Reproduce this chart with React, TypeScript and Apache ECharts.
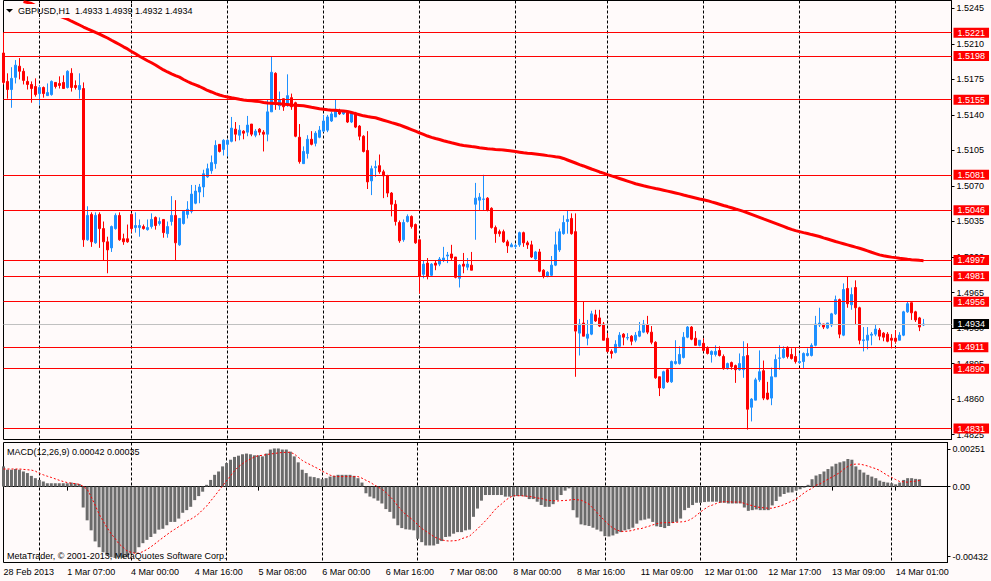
import React, { useEffect, useRef } from "react";
import * as echarts from "echarts";

// ---- time axis (hourly bars) ----
const sessionDays = ["28 Feb", "1 Mar", "4 Mar", "5 Mar", "6 Mar", "7 Mar", "8 Mar", "11 Mar", "12 Mar", "13 Mar", "14 Mar"];
const sessionFirstHour = [15, 0, 0, 0, 0, 0, 0, 0, 0, 0, 0];
const sessionLastHour = [23, 22, 23, 23, 23, 23, 22, 23, 23, 23, 14];
const firstLabel = "28 Feb 2013";
const labelEvery = 16;

// ---- GBPUSD H1 prices, in pips above 1.0000 ----
const opens = [
  5201, 5173, 5165, 5177, 5188, 5183, 5173, 5170, 5168, 5161,
  5167, 5159, 5160, 5172, 5171, 5172, 5167, 5181, 5169, 5165,
  5166, 5017, 5042, 5014, 5042, 5028, 5015, 5009, 5028, 5041,
  5018, 5018, 5042, 5029, 5029, 5030, 5027, 5030, 5039, 5033,
  5037, 5023, 5035, 5041, 5012, 5033, 5042, 5045, 5053, 5064,
  5069, 5079, 5085, 5092, 5111, 5106, 5111, 5114, 5126, 5120,
  5124, 5123, 5131, 5120, 5126, 5123, 5121, 5143, 5181, 5149,
  5156, 5150, 5157, 5152, 5118, 5092, 5102, 5116, 5112, 5118,
  5124, 5125, 5134, 5138, 5144, 5141, 5142, 5133, 5142, 5129,
  5119, 5105, 5075, 5088, 5090, 5084, 5080, 5063, 5052, 5034,
  5017, 5035, 5040, 5032, 5017, 4983, 4994, 4982, 4994, 4993,
  4997, 5001, 5003, 5000, 4979, 4993, 4990, 4992, 5052, 5056,
  5056.8, 5058, 5048, 5029, 5025, 5025, 5015, 5010, 5010.5, 5012,
  5024, 5014, 5012, 4998, 5005, 4987, 4981, 4982, 4992, 5007,
  5023, 5035, 5038, 5025, 4925, 4935, 4920, 4924, 4943, 4940,
  4934, 4920, 4907, 4906, 4912, 4924, 4920.2, 4922, 4918, 4922,
  4926, 4933, 4926, 4916, 4882, 4871, 4889, 4877, 4895, 4895,
  4901, 4921, 4931, 4920, 4913, 4915, 4910, 4904, 4904, 4908,
  4902, 4890, 4896, 4893, 4889, 4889, 4903, 4852, 4859, 4879,
  4888, 4866, 4861, 4882, 4900.2, 4901, 4911, 4904, 4902, 4896,
  4897, 4903, 4903, 4913, 4933, 4934, 4930, 4933, 4944, 4958,
  4923, 4969, 4953, 4970, 4950, 4917.6, 4918, 4923, 4924, 4928,
  4925, 4924, 4920, 4920, 4918, 4923, 4946, 4955, 4946, 4940,
  4933,
];
const closes = [
  5172, 5165, 5176, 5189, 5183, 5174, 5170, 5166, 5160, 5167,
  5161, 5162, 5173, 5168, 5169, 5166, 5183, 5167, 5167, 5169,
  5017, 5041, 5015, 5041, 5028, 5015, 5007, 5030, 5041, 5017,
  5015, 5015, 5028, 5031, 5031, 5028, 5029, 5037, 5031, 5035,
  5024, 5030, 5041, 5014, 5038, 5045, 5047, 5062, 5065, 5069,
  5082, 5087, 5093, 5110, 5104, 5115, 5115, 5127, 5121, 5125,
  5122, 5130, 5121, 5124, 5123, 5121, 5143, 5182, 5153, 5155,
  5148, 5159, 5148, 5119, 5094, 5104, 5116, 5111, 5122, 5125,
  5134, 5138, 5141, 5145, 5141, 5144, 5133, 5142, 5128, 5119,
  5104, 5074, 5087, 5089, 5084, 5080, 5063, 5052, 5035, 5016,
  5034, 5040, 5030, 5014, 4981, 4993, 4981, 4993, 4992, 4998,
  4999, 5002, 4999, 4980, 4992, 4991, 4993, 4987, 5058, 5059,
  5057.2, 5046, 5029, 5023, 5023, 5015, 5011, 5012, 5011.2, 5024,
  5014, 5012, 5000, 5005, 4986, 4981, 4985, 4992, 5012, 5025,
  5034, 5037, 5023, 4927, 4934, 4922, 4924, 4944, 4937, 4932,
  4918, 4907, 4905, 4914, 4923, 4921, 4920.6, 4917, 4923, 4927,
  4934, 4926, 4916, 4881, 4871, 4887, 4877, 4897, 4897, 4904,
  4921, 4931, 4919, 4913, 4918, 4908, 4905, 4907, 4907, 4903,
  4890, 4895, 4892, 4889, 4895, 4902, 4850, 4860, 4879, 4887,
  4861, 4860, 4882, 4899, 4900.6, 4909, 4902, 4900, 4897, 4897,
  4905, 4905, 4913, 4934, 4935, 4931, 4935, 4944, 4958, 4924,
  4968, 4954, 4963, 4950, 4918, 4918.4, 4923, 4924, 4929, 4922,
  4921, 4917, 4918, 4917, 4923, 4946, 4954, 4945, 4938, 4931,
  4934,
];
const lows = [
  5170, 5156, 5147, 5171, 5175, 5170, 5165, 5152, 5158, 5150,
  5157, 5159, 5159, 5166, 5166, 5166, 5166, 5163, 5165, 5156,
  5010, 5016, 5010, 5013, 5009, 4997, 4984, 5005, 5027, 5016,
  5012, 5014, 5024, 5024, 5020, 5027, 5026, 5028, 5027, 5031,
  5019, 5019, 5031, 4997, 5011, 5032, 5038, 5043, 5052, 5053,
  5059, 5078, 5082, 5087, 5103, 5100, 5099, 5113, 5114, 5115,
  5116, 5119, 5119, 5118, 5120, 5104, 5114, 5143, 5145, 5145,
  5144, 5148, 5145, 5118, 5092, 5092, 5097, 5110, 5109, 5117,
  5123, 5123, 5133, 5138, 5140, 5140, 5132, 5132, 5127, 5115,
  5103, 5067, 5061, 5079, 5082, 5058, 5059, 5040, 5031, 5014,
  5015, 5034, 5028, 5013, 4964, 4979, 4978, 4981, 4987, 4991,
  4995, 4994, 4997, 4979, 4970, 4984, 4987, 4987, 5017, 5046,
  5046, 5045, 5028, 5014, 5020, 5014, 5004, 5010, 5008, 5010,
  5010, 5008, 4999, 4997, 4985, 4979, 4980, 4981, 4991, 5005,
  5022, 5023, 5022, 4882, 4903, 4922, 4913, 4923, 4936, 4931,
  4918, 4906, 4900, 4905, 4911, 4913, 4918, 4913, 4916, 4921,
  4925, 4924, 4914, 4880, 4863, 4870, 4876, 4876, 4894, 4894,
  4900, 4920, 4918, 4913, 4912, 4907, 4904, 4896, 4902, 4902,
  4889, 4889, 4889, 4876, 4888, 4881, 4830, 4838, 4859, 4877,
  4859, 4859, 4854, 4882, 4889, 4900, 4900, 4899, 4895, 4895,
  4890, 4902, 4902, 4912, 4931, 4929, 4929, 4931, 4943, 4920,
  4922, 4950, 4948, 4933, 4914, 4907, 4909, 4913, 4922, 4918,
  4917, 4916, 4910, 4915, 4918, 4922, 4945, 4938, 4936, 4927,
  4932,
];
const highs = [
  5221, 5181, 5187, 5194, 5196, 5186, 5178, 5173, 5176, 5169,
  5168, 5171, 5174, 5172, 5178, 5179, 5184, 5186, 5174, 5181,
  5172, 5050, 5044, 5044, 5044, 5035, 5020, 5031, 5043, 5044,
  5023, 5032, 5043, 5044, 5037, 5032, 5037, 5043, 5040, 5039,
  5037, 5035, 5060, 5056, 5038, 5046, 5055, 5071, 5071, 5072,
  5086, 5092, 5100, 5115, 5111, 5116, 5116, 5138, 5133, 5130,
  5125, 5139, 5131, 5126, 5127, 5125, 5155, 5198, 5182, 5163,
  5156, 5180, 5161, 5153, 5131, 5109, 5120, 5124, 5124, 5129,
  5140, 5140, 5143, 5155, 5146, 5144, 5144, 5143, 5143, 5130,
  5120, 5124, 5090, 5095, 5101, 5086, 5081, 5064, 5056, 5036,
  5037, 5042, 5041, 5033, 5017, 4997, 4999, 4994, 4997, 5000,
  5010, 5005, 5012, 5000, 4993, 5004, 4999, 5005, 5073, 5063,
  5081, 5059, 5049, 5031, 5027, 5027, 5017, 5014, 5013, 5025,
  5025, 5016, 5016, 5006, 5008, 4988, 4986, 5001, 5025, 5028,
  5041, 5046, 5043, 5043, 4939, 4956, 4938, 4947, 4948, 4948,
  4936, 4925, 4909, 4918, 4926, 4925, 4925, 4923, 4926, 4936,
  4938, 4942, 4932, 4917, 4882, 4888, 4890, 4898, 4918, 4912,
  4926, 4932, 4932, 4927, 4918, 4920, 4912, 4908, 4913, 4912,
  4904, 4896, 4897, 4894, 4905, 4917, 4915, 4861, 4881, 4908,
  4898, 4877, 4891, 4904, 4913, 4912, 4912, 4910, 4911, 4905,
  4906, 4910, 4915, 4942, 4950, 4934, 4935, 4945, 4962, 4959,
  4974, 4981, 4970, 4977, 4951, 4931, 4931, 4926, 4934, 4930,
  4926, 4926, 4924, 4928, 4926, 4947, 4956, 4955, 4947, 4941,
  4939,
];

// ---- long moving average (thick red), pips above 1.0000 ----
const movingAverage = [
  null, null, null, null, null, 5251.6, 5250.7, 5249.8, 5247.8, 5246.1,
  5244.2, 5242.4, 5240.6, 5238.9, 5237.4, 5235.9, 5234.3, 5232.3, 5230.5, 5228.6,
  5226.6, 5224.8, 5223.1, 5221.3, 5219.6, 5217.7, 5215.8, 5213.6, 5211.5, 5209.4,
  5207.1, 5205, 5202.5, 5200.2, 5197.8, 5195.6, 5193.4, 5191.4, 5189.2, 5186.7,
  5184.3, 5182.3, 5180.5, 5178.8, 5177.2, 5174.9, 5172.9, 5171, 5169.5, 5168,
  5166.2, 5164.1, 5162.6, 5161, 5159.6, 5158.5, 5157.7, 5156.9, 5156.2, 5155.4,
  5154.7, 5154.3, 5153.9, 5153.5, 5153.1, 5152.3, 5151.8, 5151.5, 5151.2, 5150.9,
  5150.6, 5150.2, 5149.8, 5149.6, 5149.3, 5149, 5148.3, 5147.5, 5146.8, 5146.1,
  5145.6, 5145.1, 5144.7, 5144.5, 5144.2, 5143.9, 5143.4, 5142.4, 5141.3, 5140.2,
  5139.1, 5138.4, 5137.8, 5137.2, 5136, 5134.8, 5133.6, 5132.4, 5131.3, 5130.1,
  5128.6, 5127.1, 5125.6, 5124, 5122.4, 5120.8, 5119.2, 5117.9, 5116.8, 5115.8,
  5114.6, 5113.5, 5112.5, 5111.6, 5110.6, 5109.9, 5109.4, 5108.8, 5108.3, 5107.7,
  5107.2, 5106.7, 5106.3, 5106, 5105.8, 5105.5, 5105, 5104.5, 5103.9, 5103.3,
  5102.7, 5102.3, 5102, 5101.5, 5101, 5100.5, 5099.9, 5099.4, 5098.8, 5098.3,
  5097.1, 5095.6, 5094.1, 5092.6, 5091.1, 5089.7, 5088.2, 5086.7, 5085.3, 5083.8,
  5082.6, 5081.2, 5079.9, 5078.7, 5077.4, 5076.1, 5074.8, 5073.5, 5072.2, 5071.2,
  5070.2, 5069.3, 5068.4, 5067.5, 5066.7, 5065.8, 5064.9, 5064, 5063.1, 5062.2,
  5061.1, 5060.1, 5059.2, 5058.2, 5057.2, 5056.4, 5055.5, 5054.3, 5053.2, 5052,
  5050.8, 5049.7, 5048.5, 5047.3, 5046.2, 5045, 5043.5, 5042, 5040.5, 5039,
  5037.5, 5036.1, 5034.6, 5033.1, 5031.6, 5030.1, 5028.6, 5027.2, 5026, 5025,
  5024, 5023.1, 5022.1, 5021.2, 5020.2, 5018.9, 5017.7, 5016.5, 5015.3, 5014.2,
  5013.1, 5012, 5010.9, 5009.7, 5008.6, 5007.4, 5006.1, 5004.7, 5003.4, 5002.1,
  5001.3, 5000.6, 4999.9, 4999.4, 4998.7, 4998.3, 4997.8, 4997.4, 4997.1, 4996.7,
  4996.4,
];

// ---- MACD(12,26,9), in units of 0.00001 ----
const macdMain = [
  115, 96, 96, 100, 96, 86, 77, 61, 48, 38,
  29, 19, 19, 19, 19, 19, 19, 23, 19, 15,
  -119, -192, -249, -312, -345, -374, -393, -402, -406, -402,
  -406, -402, -383, -379, -345, -322, -303, -287, -268, -245,
  -240, -220, -201, -201, -182, -149, -134, -115, -77, -54,
  -29, 10, 38, 67, 86, 115, 134, 153, 169, 176,
  184, 188, 184, 178, 178, 172, 188, 211, 217, 217,
  211, 211, 199, 172, 138, 96, 77, 57, 54, 48,
  42, 48, 57, 61, 67, 67, 67, 67, 61, 48,
  23, -38, -57, -67, -80, -96, -128, -144, -182, -220,
  -236, -243, -245, -249, -297, -316, -335, -335, -335, -326,
  -310, -287, -284, -268, -259, -259, -249, -245, -172, -125,
  -80, -48, -48, -48, -48, -48, -57, -57, -57, -54,
  -54, -57, -71, -71, -86, -105, -115, -115, -100, -77,
  -48, -23, -10, -134, -176, -215, -220, -224, -234, -245,
  -255, -282, -284, -278, -268, -259, -249, -243, -234, -211,
  -192, -188, -182, -201, -226, -230, -236, -224, -207, -201,
  -182, -134, -121, -105, -92, -92, -88, -86, -86, -86,
  -92, -92, -96, -96, -96, -96, -119, -138, -134, -130,
  -134, -134, -134, -107, -82, -57, -42, -34, -33, -23,
  -15, -6, 10, 42, 63, 71, 86, 100, 115, 130,
  138, 144, 157, 153, 115, 96, 80, 67, 57, 48,
  34, 27, 23, 19, 13, 23, 38, 48, 48, 44,
  42,
];
const macdSignal = [
  100, 100, 100, 100, 100, 98, 96, 94, 88, 75,
  67, 59, 52, 44, 36, 29, 23, 19, 17, 13,
  2, -15, -57, -105, -157, -195, -234, -268, -295, -326,
  -345, -366, -374, -379, -379, -370, -358, -343, -326, -308,
  -291, -274, -257, -243, -228, -215, -197, -186, -172, -155,
  -132, -111, -82, -54, -25, 4, 33, 61, 90, 113,
  130, 146, 157, 169, 176, 178, 182, 186, 188, 192,
  194, 195, 195, 186, 167, 149, 136, 125, 113, 102,
  88, 77, 65, 59, 57, 57, 57, 57, 57, 57,
  48, 36, 25, 11, -2, -15, -33, -56, -79, -111,
  -136, -159, -176, -194, -217, -238, -253, -268, -284, -295,
  -303, -308, -310, -308, -307, -297, -289, -282, -261, -241,
  -218, -195, -170, -142, -117, -100, -79, -63, -52, -52,
  -52, -54, -56, -59, -65, -67, -75, -79, -80, -82,
  -80, -79, -77, -73, -75, -77, -88, -100, -123, -148,
  -172, -195, -218, -236, -247, -255, -255, -253, -249, -241,
  -240, -232, -226, -218, -211, -207, -205, -205, -205, -203,
  -201, -199, -192, -180, -163, -144, -128, -113, -105, -96,
  -88, -86, -86, -88, -88, -88, -96, -102, -109, -115,
  -119, -121, -123, -123, -117, -111, -102, -92, -82, -71,
  -54, -36, -21, -10, 8, 15, 29, 42, 54, 67,
  80, 100, 115, 126, 128, 128, 123, 117, 109, 102,
  92, 77, 63, 52, 40, 29, 27, 25, 29, 31,
  35,
];

// ---- horizontal levels and axis ticks ----
const levelLines = [5221, 5198, 5155, 5081, 5046, 4997, 4981, 4956, 4911, 4890, 4831];
const bidLevel = 4934;
const priceTicks = [4825, 4860, 4895, 4930, 4965, 5000, 5035, 5070, 5105, 5140, 5175, 5210, 5245];
const macdTickAt = [-399, 0, 214];
const macdTickText = ["-0.00432", "0.00", "0.00251"];
const macdRange = [-432, 251];
const copyright = "MetaTrader, \u00A9 2001-2013, MetaQuotes Software Corp.";

const FONT = '"Liberation Sans", Arial, sans-serif';
const BG = "#FFFAFA";
const toPrice = (p: number) => 1 + p / 10000;
const toMacd = (v: number) => v / 100000;

export default function App() {
  const ref = useRef<HTMLDivElement>(null);

  useEffect(() => {
    const chart = echarts.init(ref.current!, undefined, { renderer: "svg" });

    const categories: string[] = [];
    sessionDays.forEach((d, k) => {
      for (let h = sessionFirstHour[k]; h <= sessionLastHour[k]; h++) {
        categories.push(`${d} ${String(h).padStart(2, "0")}:00`);
      }
    });
    const last = opens.length - 1;
    const candles = opens.map((o, i) => [toPrice(o), toPrice(closes[i]), toPrice(lows[i]), toPrice(highs[i])]);
    const f4 = (v: number) => toPrice(v).toFixed(4);
    const title = `GBPUSD,H1  ${f4(opens[last])} ${f4(highs[last])} ${f4(lows[last])} ${f4(closes[last])}`;
    const macdTitle = `MACD(12,26,9) ${toMacd(macdMain[last]).toFixed(5)} ${toMacd(macdSignal[last]).toFixed(5)}`;

    const isDayStart = (_i: number, v: string) => / 00:00$/.test(v);
    const isLabel = (i: number) => i % labelEvery === 0 && i <= last;
    const dashed = { show: true, interval: isDayStart, lineStyle: { color: "#000", type: [3, 2], width: 1 } };

    // price-pane scale: 1.015 px per pip, 1.5221 at y=32.7
    const pTop = 0.5, pH = 439, pxPerUnit = 10150;
    const pMax = 1.5221 + (32.7 - pTop) / pxPerUnit;
    const pMin = pMax - pH / pxPerUnit;

    const textStyle = { fontFamily: FONT, fontSize: 9, color: "#000" };

    const option: any = {
      animation: false,
      backgroundColor: BG,
      grid: [
        { left: 3.5, top: pTop, width: 948, height: pH, show: true, borderColor: "#000", borderWidth: 1, backgroundColor: "transparent" },
        { left: 3.5, top: 442.5, width: 948, height: 120, show: true, borderColor: "#000", borderWidth: 1, backgroundColor: "transparent" },
      ],
      xAxis: [
        {
          type: "category", gridIndex: 0, data: categories, boundaryGap: false,
          axisLine: { show: false }, axisTick: { show: false }, axisLabel: { show: false },
          splitLine: dashed,
        },
        {
          type: "category", gridIndex: 1, data: categories, boundaryGap: false,
          axisLine: { show: true, lineStyle: { color: "#000" } },
          axisTick: { show: true, interval: isLabel, length: 4, lineStyle: { color: "#000" } },
          axisLabel: {
            show: true, interval: isLabel, align: "left", margin: 5, ...textStyle,
            formatter: (v: string, i: number) => (i === 0 ? firstLabel : v),
          },
          splitLine: dashed,
        },
      ],
      yAxis: [
        {
          type: "value", gridIndex: 0, position: "right", min: pMin, max: pMax,
          axisLine: { show: true, lineStyle: { color: "#000" } },
          axisTick: { show: true, length: 3, customValues: priceTicks.map(toPrice), lineStyle: { color: "#000" } },
          axisLabel: { customValues: priceTicks.map(toPrice), formatter: (v: number) => v.toFixed(4), margin: 5, ...textStyle },
          splitLine: { show: false },
        },
        {
          type: "value", gridIndex: 1, position: "right", min: toMacd(macdRange[0]), max: toMacd(macdRange[1]),
          axisLine: { show: true, lineStyle: { color: "#000" } },
          axisTick: { show: true, length: 3, customValues: macdTickAt.map(toMacd), lineStyle: { color: "#000" } },
          axisLabel: {
            customValues: macdTickAt.map(toMacd), margin: 5, ...textStyle,
            formatter: (v: number) => {
              const k = macdTickAt.findIndex((t) => Math.abs(toMacd(t) - v) < 1e-7);
              return k >= 0 ? macdTickText[k] : "";
            },
          },
          splitLine: { show: false },
        },
      ],
      series: [
        {
          type: "candlestick", xAxisIndex: 0, yAxisIndex: 0, data: candles, barWidth: 2, clip: false, z: 2,
          itemStyle: { color: "#1E90FF", color0: "#FF0000", borderColor: "#1E90FF", borderColor0: "#FF0000", borderWidth: 1 },
          markLine: {
            silent: true, symbol: ["none", "none"], animation: false, precision: 4,
            lineStyle: { color: "#FF0000", width: 1, type: "solid" },
            label: {
              show: true, position: "end", distance: 2,
              formatter: (p: any) => Number(p.value).toFixed(4),
              color: "#fff", backgroundColor: "#FF0000", padding: [1, 4, 0, 4],
              fontFamily: FONT, fontSize: 9, lineHeight: 9,
            },
            data: [
              ...levelLines.map((v) => ({ yAxis: toPrice(v) })),
              { yAxis: toPrice(bidLevel), lineStyle: { color: "#C0C0C0", width: 1, type: "solid" }, label: { backgroundColor: "#000" } },
            ],
          },
        },
        {
          type: "line", xAxisIndex: 0, yAxisIndex: 0, z: 3,
          data: movingAverage.map((v) => (v == null ? "-" : toPrice(v))),
          showSymbol: false, symbol: "none",
          lineStyle: { color: "#FF0000", width: 3 },
        },
        {
          type: "bar", xAxisIndex: 1, yAxisIndex: 1, clip: false,
          data: macdMain.map(toMacd), barWidth: 3,
          itemStyle: { color: "#6B6B6B" },
        },
        {
          type: "line", xAxisIndex: 1, yAxisIndex: 1, z: 3,
          data: macdSignal.map(toMacd), showSymbol: false, symbol: "none",
          lineStyle: { color: "#FF0000", width: 1, type: [2, 2] },
        },
      ],
    };
    chart.setOption(option);

    // title box hides the MA line behind it; keep the day grid lines visible through it
    const overlays: any[] = [];
    categories.forEach((c, i) => {
      if (!isDayStart(i, c)) return;
      const x = chart.convertToPixel({ xAxisIndex: 0 }, c) as number;
      if (x > 15 && x < 201) {
        overlays.push({ type: "line", z: 101, shape: { x1: x, y1: 4, x2: x, y2: 18 }, style: { stroke: "#000", lineWidth: 1, lineDash: [3, 2] } });
      }
    });
    const gText = (text: string, x: number, y: number) => ({
      type: "text", z: 102, x, y,
      style: { text, fill: "#000", fontFamily: FONT, fontSize: 9, verticalAlign: "middle", align: "left" },
    });
    chart.setOption({
      graphic: [
        { type: "rect", z: 100, shape: { x: 15, y: 4, width: 186, height: 14 }, style: { fill: BG } },
        ...overlays,
        { type: "polygon", z: 102, shape: { points: [[6, 9], [13, 9], [9.5, 12.5]] }, style: { fill: "#000" } },
        gText(title, 18, 11),
        gText(macdTitle, 7, 452),
        gText(copyright, 7, 556),
      ],
    });

    return () => chart.dispose();
  }, []);

  return <div ref={ref} style={{ position: "fixed", left: 0, top: 0, width: 991, height: 581 }} />;
}
